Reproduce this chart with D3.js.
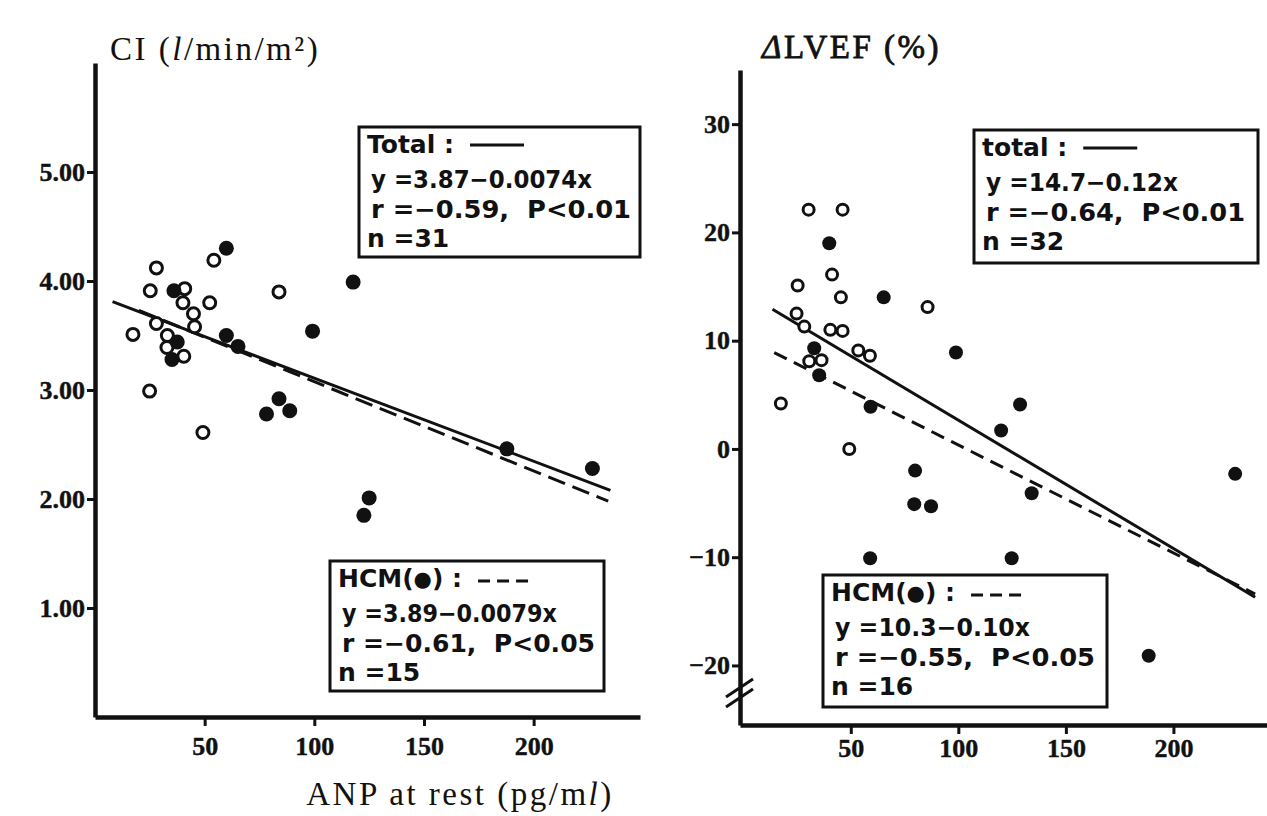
<!DOCTYPE html>
<html>
<head>
<meta charset="utf-8">
<script src="https://cdn.jsdelivr.net/npm/d3@7"></script>
<style>
  body { margin: 0; background: #fff; }
  svg { display: block; }
  .legend text { font-family: "DejaVu Sans", sans-serif; font-weight: bold; font-size: 25px; fill: #111; white-space: pre; }
  .title { font-family: "Liberation Serif", serif; font-size: 33px; fill: #111; letter-spacing: 2.5px; }
</style>
</head>
<body>
<svg id="chart" width="1267" height="816"></svg>
<script>
// ---- CI panel (left) ----
var ciOpenX = [28, 25.2, 40.9, 40.1, 44.9, 52.3, 45.4, 54.2, 28, 33, 17.3, 32.8, 40.5, 24.9, 49.2, 83.9];
var ciOpenY = [4.12, 3.91, 3.93, 3.80, 3.70, 3.80, 3.58, 4.19, 3.61, 3.50, 3.51, 3.39, 3.31, 2.99, 2.61, 3.90];
var ciHcmX = [59.9, 36, 37.5, 35.1, 59.9, 65.2, 99.2, 83.9, 88.8, 78.2, 117.7, 187.8, 226.8, 125, 122.6];
var ciHcmY = [4.30, 3.91, 3.44, 3.28, 3.50, 3.40, 3.54, 2.92, 2.81, 2.78, 3.99, 2.46, 2.28, 2.01, 1.85];
var ciTotalLine = [[8, 3.81], [235, 2.08]];
var ciHcmLine = [[20, 3.73], [234, 1.98]];
var ciYTicks = [1, 2, 3, 4, 5];

// ---- dLVEF panel (right) ----
var efOpenX = [30.4, 46.2, 41.3, 25.3, 45.4, 85.7, 24.8, 28.4, 40.5, 46.2, 53.5, 58.9, 30.7, 36.4, 17.5, 49.3];
var efOpenY = [22.1, 22.1, 16.1, 15.1, 14.0, 13.1, 12.5, 11.3, 11.0, 10.9, 9.1, 8.6, 8.1, 8.2, 4.2, 0.0];
var efHcmX = [40, 65.3, 33, 35.3, 98.9, 59.2, 128.7, 119.9, 79.9, 79.5, 87.3, 134.1, 228.7, 59.0, 124.8, 188.5];
var efHcmY = [19.0, 14.0, 9.3, 6.8, 8.9, 3.9, 4.1, 1.7, -2.0, -5.1, -5.3, -4.1, -2.3, -10.1, -10.1, -19.1];
var efTotalLine = [[13.6, 12.9], [238, -13.7]];
var efHcmLine = [[14.4, 8.9], [238, -13.4]];
var efYTicks = [-20, -10, 0, 10, 20, 30];

var xTicks = [50, 100, 150, 200];

var ciTotalText = ["Total :", "y =3.87\u22120.0074x", "r =\u22120.59,  P<0.01", "n =31"];
var ciHcmText = ["HCM(\u25CF) :", "y =3.89\u22120.0079x", "r =\u22120.61,  P<0.05", "n =15"];
var efTotalText = ["total :", "y =14.7\u22120.12x", "r =\u22120.64,  P<0.01", "n =32"];
var efHcmText = ["HCM(\u25CF) :", "y =10.3\u22120.10x", "r =\u22120.55,  P<0.05", "n =16"];

var svg = d3.select('#chart');

function zip(xs, ys) {
    return xs.map(function(x, i) { return [x, ys[i]]; });
}

function panel(cfg) {
    var g = svg.append('g');
    var x = cfg.x, y = cfg.y;

    // regression lines first, points on top
    var line = d3.line().x(function(d) { return x(d[0]); }).y(function(d) { return y(d[1]); });
    g.append('path').datum(cfg.totalLine).attr('d', line)
        .attr('fill', 'none').attr('stroke', '#111').attr('stroke-width', 3);
    g.append('path').datum(cfg.hcmLine).attr('d', line)
        .attr('fill', 'none').attr('stroke', '#111').attr('stroke-width', 3)
        .attr('stroke-dasharray', cfg.dash);

    g.selectAll('.open').data(zip(cfg.openX, cfg.openY)).enter()
        .append('circle').attr('class', 'open')
        .attr('cx', function(d) { return x(d[0]); })
        .attr('cy', function(d) { return y(d[1]); })
        .attr('r', cfg.r).attr('fill', '#fff').attr('stroke', '#111').attr('stroke-width', 3);
    g.selectAll('.hcm').data(zip(cfg.hcmX, cfg.hcmY)).enter()
        .append('circle').attr('class', 'hcm')
        .attr('cx', function(d) { return x(d[0]); })
        .attr('cy', function(d) { return y(d[1]); })
        .attr('r', cfg.r + 1.5).attr('fill', '#111');

    // axes
    var yAxis = d3.axisLeft(y).tickValues(cfg.yTicks).tickFormat(cfg.yFormat)
        .tickSize(8).tickSizeOuter(0).tickPadding(2);
    var ya = g.append('g').attr('transform', 'translate(' + x.range()[0] + ',0)').call(yAxis);
    var xAxis = d3.axisBottom(x).tickValues(xTicks).tickFormat(d3.format('d'))
        .tickSize(9).tickSizeOuter(0).tickPadding(cfg.xPad);
    var xa = g.append('g').attr('transform', 'translate(0,' + y.range()[0] + ')').call(xAxis);
    [ya, xa].forEach(function(a) {
        a.attr('font-family', '"Liberation Serif", serif').attr('font-size', 26).attr('font-weight', 'bold');
        a.selectAll('.tick text').attr('fill', '#111').attr('stroke', '#111').attr('stroke-width', 0.4);
        a.select('.domain').attr('stroke', '#111').attr('stroke-width', 4.5);
        a.selectAll('.tick line').attr('stroke', '#111').attr('stroke-width', 3);
    });
    return g;
}

// box = [x, y, w, h]; widths = fitted lengths of the y and r lines
function legend(g, box, lines, dashed, widths) {
    var lg = g.append('g').attr('class', 'legend');
    var offs = [26, 61, 91, 120];
    lg.append('rect').attr('x', box[0]).attr('y', box[1]).attr('width', box[2]).attr('height', box[3])
        .attr('fill', '#fff').attr('stroke', '#111').attr('stroke-width', 3);
    lines.forEach(function(t, i) {
        var tx = lg.append('text')
            .attr('x', box[0] + (i === 0 || i === 3 ? 8 : 12))
            .attr('y', box[1] + offs[i]);
        if (i === 0 && dashed) {
            tx.append('tspan').text('HCM(');
            tx.append('tspan').attr('font-size', 21).attr('dy', -1).text('\u25CF');
            tx.append('tspan').attr('dy', 1).text(') :');
        } else {
            tx.text(t);
        }
        if (i === 1 || i === 2) {
            tx.attr('textLength', widths[i - 1]).attr('lengthAdjust', 'spacingAndGlyphs');
        }
        if (i === 0) {
            var w = tx.node().getComputedTextLength();
            lg.append('line')
                .attr('x1', box[0] + 8 + w + 16).attr('x2', box[0] + 8 + w + 16 + (dashed ? 50 : 54))
                .attr('y1', box[1] + (dashed ? 20 : 18)).attr('y2', box[1] + (dashed ? 20 : 18))
                .attr('stroke', '#111').attr('stroke-width', 3)
                .attr('stroke-dasharray', dashed ? '12,7' : null);
        }
    });
}

var xL = d3.scaleLinear().domain([0, 248.5]).range([95, 640]);
var yL = d3.scaleLinear().domain([0, 6]).range([717, 63]);
var gL = panel({
    x: xL, y: yL, openX: ciOpenX, openY: ciOpenY, hcmX: ciHcmX, hcmY: ciHcmY,
    totalLine: ciTotalLine, hcmLine: ciHcmLine, yTicks: ciYTicks,
    yFormat: d3.format('.2f'), dash: '18,8', r: 6, xPad: 11
});
legend(gL, [359, 127, 281, 130], ciTotalText, false, [221, 260]);
legend(gL, [330, 561, 274, 130], ciHcmText, true, [215, 253]);

var xR = d3.scaleLinear().domain([-1.5, 243.5]).range([740, 1267]);
var yR = d3.scaleLinear().domain([-25.5, 35]).range([725, 70]);
var gR = panel({
    x: xR, y: yR, openX: efOpenX, openY: efOpenY, hcmX: efHcmX, hcmY: efHcmY,
    totalLine: efTotalLine, hcmLine: efHcmLine, yTicks: efYTicks,
    yFormat: d3.format('d'), dash: '14,8', r: 5.5, xPad: 5
});
legend(gR, [974, 130, 284, 133], efTotalText, false, [192, 259]);
legend(gR, [823, 575, 284, 132], efHcmText, true, [195, 260]);

// axis break marks on the right y axis
[0, 10].forEach(function(o) {
    gR.append('line')
        .attr('x1', 726).attr('y1', 697 + o).attr('x2', 753).attr('y2', 679 + o)
        .attr('stroke', '#111').attr('stroke-width', 3);
});

// titles
var t1 = svg.append('text').attr('class', 'title').attr('x', 110).attr('y', 60);
t1.append('tspan').text('CI (');
t1.append('tspan').attr('font-style', 'italic').text('l');
t1.append('tspan').text('/min/m\u00B2)');

var t2 = svg.append('text').attr('class', 'title').attr('x', 762).attr('y', 58)
    .attr('stroke', '#111').attr('stroke-width', 0.8);
t2.append('tspan').attr('font-style', 'italic').text('\u0394');
t2.append('tspan').text('LVEF (%)');

var t3 = svg.append('text').attr('class', 'title').attr('x', 460).attr('y', 805)
    .attr('text-anchor', 'middle').attr('font-size', 31);
t3.append('tspan').text('ANP at rest (pg/m');
t3.append('tspan').attr('font-style', 'italic').text('l');
t3.append('tspan').text(')');
</script>
</body>
</html>
